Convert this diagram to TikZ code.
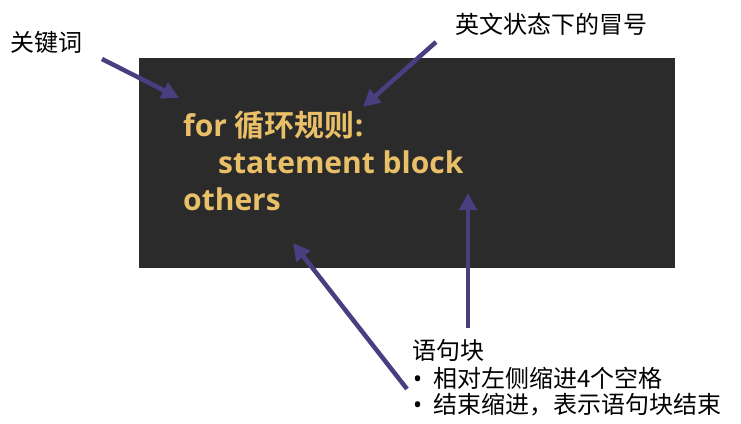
\documentclass[tikz,border=0pt]{standalone}
\usepackage{fontspec}
\setmainfont{Open Sans}[BoldFont={Open Sans Bold}]
\newfontfamily\latinfont{Noto Sans}
\newfontfamily\cjk{Noto Sans CJK SC}[BoldFont={Noto Sans CJK SC Bold}]
\usetikzlibrary{arrows.meta}
\definecolor{codebg}{RGB}{43,43,43}
\definecolor{codefg}{RGB}{233,191,104}
\definecolor{arrowc}{RGB}{74,62,128}
\tikzset{
  codetext/.style={anchor=base west, inner sep=0pt, text=codefg, font=\fontsize{30}{30}\selectfont\bfseries},
  label/.style={anchor=west, inner sep=0pt, text=black, font=\fontsize{24}{24}\selectfont\cjk},
  pointer/.style={draw=arrowc, line width=4.5pt, -{Triangle[length=17pt,width=17pt]}}
}
\newcommand{\bul}{\makebox[21pt][l]{\hspace*{1pt}{\latinfont •}}}
\begin{document}
\begin{tikzpicture}[x=1pt,y=-1pt]
\useasboundingbox (0,0) rectangle (741,423);
\fill[codebg] (139,58) rectangle (675,268);
\node[codetext] (l1) at (183,136) {for {\cjk\bfseries 循环规则}:};
\node[codetext] (l2) at (218,173) {statement block};
\node[codetext] (l3) at (183,210) {others};
\node[label] (kw) at (10,42) {关键词};
\node[label] (colon) at (455,24) {英文状态下的冒号};
\node[label] (blk) at (412,350) {语句块};
\node[label] (b1) at (412,378) {\bul 相对左侧缩进4个空格};
\node[label] (b2) at (412,405) {\bul 结束缩进，表示语句块结束};
\coordinate (t1) at (102,59);
\coordinate (h1) at (179,98);
\coordinate (t2) at (436,42);
\coordinate (h2) at (363,107);
\coordinate (t3) at (468,328);
\coordinate (h3) at (468,193);
\coordinate (t4) at (407,389);
\coordinate (h4) at (293,243);
\draw[pointer] (t1) -- (h1);
\draw[pointer] (t2) -- (h2);
\draw[pointer] (t3) -- (h3);
\draw[pointer] (t4) -- (h4);
\end{tikzpicture}
\end{document}
